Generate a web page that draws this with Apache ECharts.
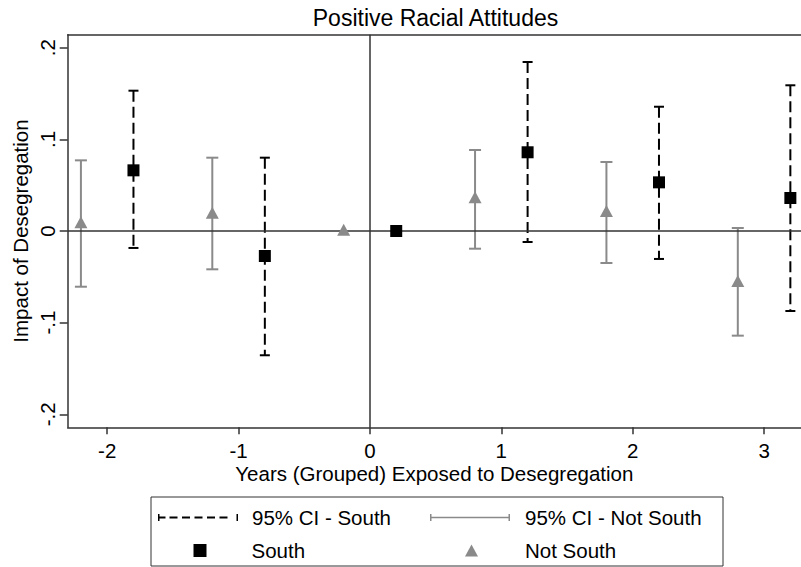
<!DOCTYPE html>
<html>
<head>
<meta charset="utf-8">
<script src="https://cdn.jsdelivr.net/npm/echarts@6/dist/echarts.min.js"></script>
<style>
html,body{margin:0;padding:0;background:#fff;}
#c{width:801px;height:567px;}
</style>
</head>
<body>
<div id="c"></div>
<script>
// ---- Data ----
const southX = [-1.8, -0.8, 0.2, 1.2, 2.2, 3.2];
const southY = [0.0662, -0.0273, 0.0, 0.0859, 0.0531, 0.0360];
const southCiX = [-1.8, -0.8, 1.2, 2.2, 3.2];
const southLo = [-0.0185, -0.1356, -0.0120, -0.0305, -0.0873];
const southHi = [0.1531, 0.0800, 0.1844, 0.1356, 0.1590];

const notSouthX = [-2.2, -1.2, -0.2, 0.8, 1.8, 2.8];
const notSouthY = [0.0095, 0.0200, 0.0015, 0.0368, 0.0218, -0.0546];
const notSouthCiX = [-2.2, -1.2, 0.8, 1.8, 2.8];
const notSouthLo = [-0.0608, -0.0418, -0.0193, -0.0349, -0.1142];
const notSouthHi = [0.0771, 0.0800, 0.0884, 0.0753, 0.0033];

const xTicks = [-2, -1, 0, 1, 2, 3];
const yTicks = [-0.2, -0.1, 0, 0.1, 0.2];

const GREY = '#8a8a8a';
const DARK = '#333333';
const FONT = 'Liberation Sans, Arial, sans-serif';

function ciRender(color, dash, capW) {
  return function (params, api) {
    const x = api.value(0), lo = api.value(1), hi = api.value(2);
    const a = api.coord([x, lo]);
    const b = api.coord([x, hi]);
    const hw = capW / 2;
    return {
      type: 'group',
      children: [
        {type: 'line', shape: {x1: b[0], y1: b[1], x2: a[0], y2: a[1]},
         style: {stroke: color, lineWidth: 2, lineDash: dash}},
        {type: 'line', shape: {x1: b[0] - hw, y1: b[1], x2: b[0] + hw, y2: b[1]},
         style: {stroke: color, lineWidth: 2}},
        {type: 'line', shape: {x1: a[0] - hw, y1: a[1], x2: a[0] + hw, y2: a[1]},
         style: {stroke: color, lineWidth: 2}}
      ]
    };
  };
}

const ciSouthData = southCiX.map((x, i) => [x, southLo[i], southHi[i]]);
const ciNotSouthData = notSouthCiX.map((x, i) => [x, notSouthLo[i], notSouthHi[i]]);
const southData = southX.map((x, i) => [x, southY[i]]);
const notSouthData = notSouthX.map((x, i) => [x, notSouthY[i]]);

function yFmt(v) {
  if (Math.abs(v) < 1e-9) return '0';
  const s = String(Math.round(Math.abs(v) * 10) / 10).replace(/^0/, '');
  return (v < 0 ? '-' : '') + s;
}

// legend icon paths
const dashPath = (function () {
  let p = 'path://M0,0h1.5v7h-1.5ZM1.5,2.5h6v2h-6Z';
  for (let x = 11.5; x + 8 <= 76; x += 12.5) p += 'M' + x.toFixed(1) + ',2.5h8v2h-8Z';
  p += 'M78.5,0h1.5v7h-1.5Z';
  return p;
})();
const solidPath = 'path://M0,0h1.5v7h-1.5ZM1.5,2.75h77v1.5h-77ZM78.5,0h1.5v7h-1.5Z';

const legendText = {fontFamily: FONT, fontSize: 20.5, color: '#000'};

const option = {
  animation: false,
  backgroundColor: '#fff',
  title: {
    text: 'Positive Racial Attitudes',
    left: 435.5, top: 6, textAlign: 'center', padding: 0,
    textStyle: {fontFamily: FONT, fontSize: 23, fontWeight: 'normal', color: '#000'}
  },
  grid: {
    left: 67.7, top: 34.7, right: -2, bottom: 139.7, show: false
  },
  xAxis: [{
    type: 'value', min: -2.3006, max: 3.281,
    name: 'Years (Grouped) Exposed to Desegregation',
    nameLocation: 'middle', nameGap: 36, nameMoveOverlap: false,
    nameTextStyle: {fontFamily: FONT, fontSize: 20.5, color: '#000'},
    axisLine: {show: true, onZero: false, lineStyle: {color: DARK, width: 1.5}},
    axisTick: {show: true, length: 7, customValues: xTicks, lineStyle: {color: DARK, width: 1.5}},
    axisLabel: {customValues: xTicks, margin: 13, fontFamily: FONT, fontSize: 20.5, color: '#000',
      formatter: v => String(v)},
    splitLine: {show: false}
  }, {
    type: 'value', min: -2.3006, max: 3.281, position: 'top',
    axisLine: {show: true, onZero: false, lineStyle: {color: DARK, width: 1.5}},
    axisTick: {show: false}, axisLabel: {show: false}, splitLine: {show: false}
  }],
  yAxis: {
    type: 'value', min: -0.2142, max: 0.2142,
    name: 'Impact of Desegregation',
    nameLocation: 'middle', nameGap: 37, nameRotate: 90, nameMoveOverlap: false,
    nameTextStyle: {fontFamily: FONT, fontSize: 20.5, color: '#000'},
    axisLine: {show: true, onZero: false, lineStyle: {color: DARK, width: 1.5}},
    axisTick: {show: true, length: 8, customValues: yTicks, lineStyle: {color: DARK, width: 1.5}},
    axisLabel: {customValues: yTicks, rotate: 90, margin: 10, fontFamily: FONT, fontSize: 20.5, color: '#000',
      formatter: yFmt},
    splitLine: {show: false}
  },
  legend: [
    {data: [{name: '95% CI - South', icon: dashPath}], left: 158, top: 507, padding: 0,
     itemWidth: 80, itemHeight: 7, selectedMode: false,
     itemStyle: {color: '#000', borderWidth: 0},
     textStyle: Object.assign({padding: [0, 0, 0, 9]}, legendText)},
    {data: [{name: '95% CI - Not South', icon: solidPath}], left: 430, top: 507, padding: 0,
     itemWidth: 80, itemHeight: 7, selectedMode: false,
     itemStyle: {color: GREY, borderWidth: 0},
     textStyle: Object.assign({padding: [0, 0, 0, 10]}, legendText)},
    {data: [{name: 'South', icon: 'rect'}], left: 193.5, top: 540, padding: 0,
     itemWidth: 13, itemHeight: 13, selectedMode: false,
     itemStyle: {color: '#000', borderWidth: 0},
     textStyle: Object.assign({padding: [0, 0, 0, 40]}, legendText)},
    {data: [{name: 'Not South', icon: 'triangle'}], left: 465, top: 540, padding: 0,
     itemWidth: 13, itemHeight: 12, selectedMode: false,
     itemStyle: {color: GREY, borderWidth: 0},
     textStyle: Object.assign({padding: [0, 0, 0, 42]}, legendText)}
  ],
  graphic: [
    {type: 'rect', shape: {x: 151, y: 497, width: 572, height: 69},
     style: {fill: 'none', stroke: DARK, lineWidth: 1}, silent: true}
  ],
  series: [
    {
      type: 'line', name: 'zero', data: [], silent: true, z: 1,
      markLine: {
        silent: true, symbol: 'none', label: {show: false},
        lineStyle: {color: DARK, width: 1.5, type: 'solid'},
        data: [{xAxis: 0}, {yAxis: 0}]
      }
    },
    {
      type: 'custom', name: '95% CI - South', z: 3,
      itemStyle: {color: '#000'},
      renderItem: ciRender('#000', [11, 5], 10),
      encode: {x: 0, y: [1, 2]},
      data: ciSouthData
    },
    {
      type: 'custom', name: '95% CI - Not South', z: 3,
      itemStyle: {color: GREY},
      renderItem: ciRender(GREY, null, 12),
      encode: {x: 0, y: [1, 2]},
      data: ciNotSouthData
    },
    {
      type: 'scatter', name: 'South', z: 5, symbol: 'rect', symbolSize: 12,
      itemStyle: {color: '#000', opacity: 1},
      data: southData
    },
    {
      type: 'scatter', name: 'Not South', z: 5, symbol: 'triangle', symbolSize: [13, 12],
      itemStyle: {color: GREY, opacity: 1},
      data: notSouthData
    }
  ]
};

const chart = echarts.init(document.getElementById('c'), null, {renderer: 'svg'});
chart.setOption(option);
</script>
</body>
</html>
